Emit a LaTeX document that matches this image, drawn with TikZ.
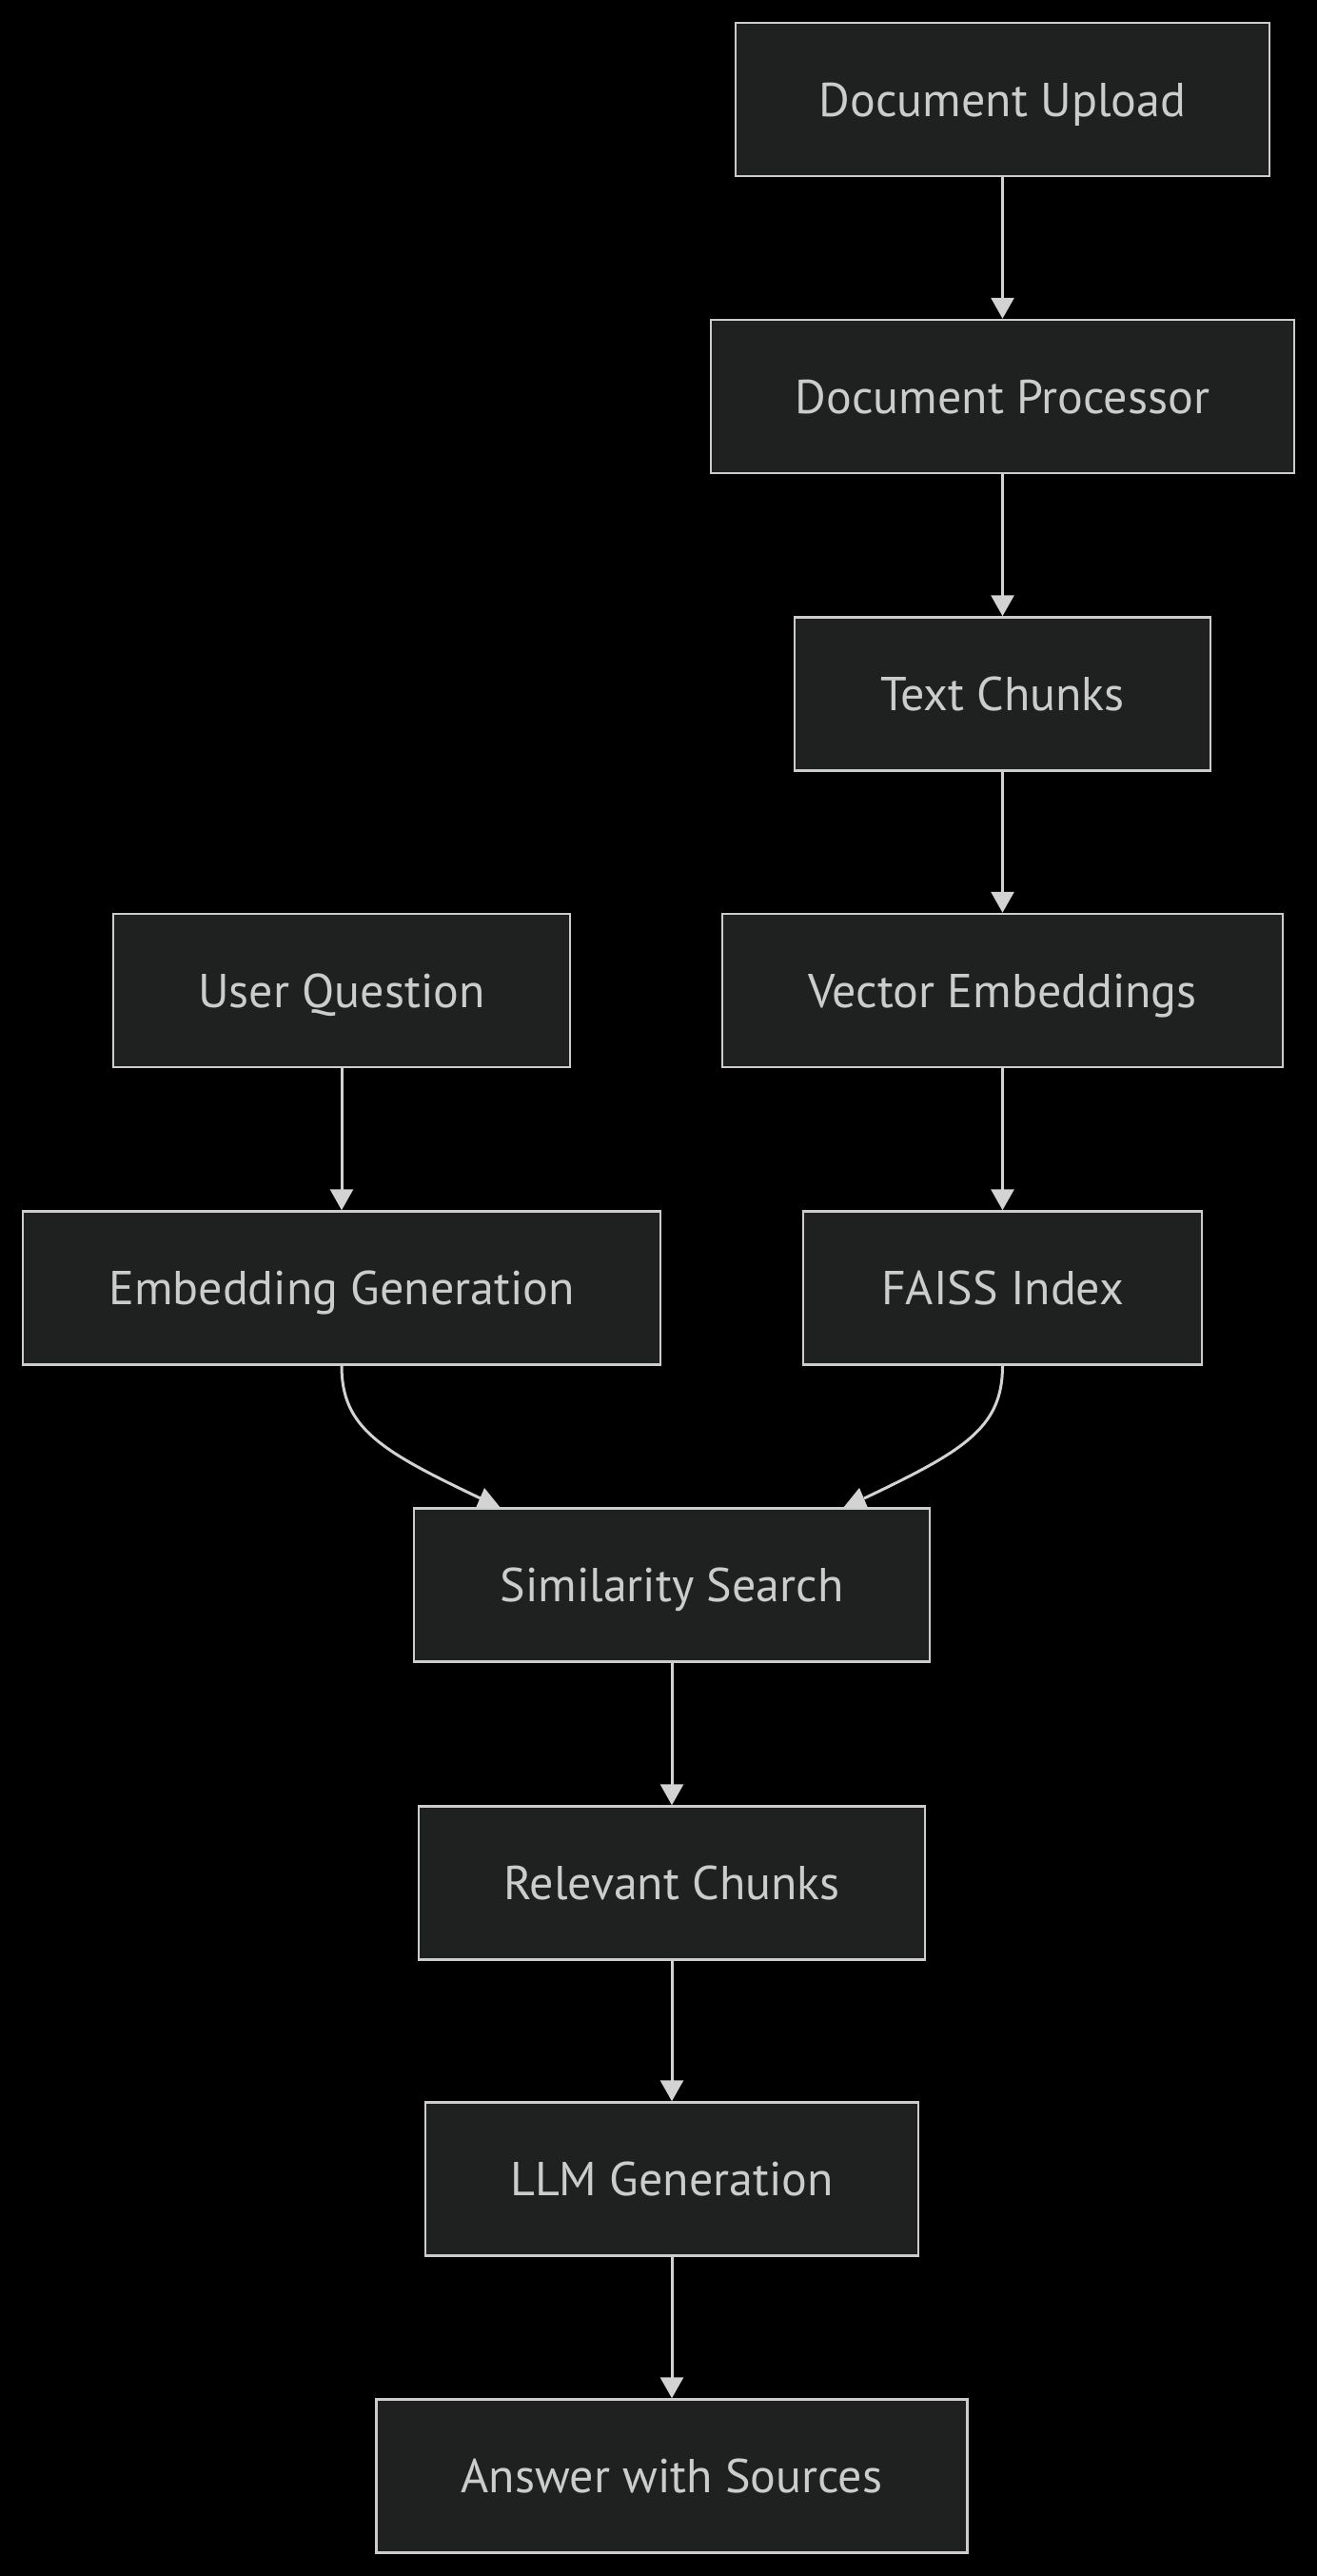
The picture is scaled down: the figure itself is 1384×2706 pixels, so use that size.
\documentclass[tikz,border=0pt]{standalone}
\usepackage{fontspec}
\setmainfont{PT Sans}
\usetikzlibrary{arrows.meta}
\definecolor{bg}{HTML}{000000}
\definecolor{boxfill}{HTML}{1F2020}
\definecolor{boxline}{HTML}{CCCCCC}
\definecolor{txt}{HTML}{CCCCCC}
\definecolor{edge}{HTML}{D3D3D3}
\tikzset{
  flowbox/.style={draw=boxline, fill=boxfill, line width=2.5pt, inner sep=0pt,
    minimum height=161pt, text=txt, font=\fontsize{50}{60}\selectfont,
    text height=35pt, text depth=0pt},
  flowedge/.style={draw=edge, line width=3pt, -{Triangle[length=22pt,width=24pt]}},
  curveedge/.style={draw=edge, line width=3pt},
  headfill/.style={fill=edge}
}
\begin{document}
\begin{tikzpicture}[x=1pt,y=-1pt]
\fill[bg] (0,0) rectangle (1384,2706);
\useasboundingbox (0,0) rectangle (1384,2706);

\coordinate (cL) at (505,1574);
\coordinate (cR) at (908,1574);

\node[flowbox, minimum width=561pt] (du) at (1053.5,104.5) {Document Upload};
\node[flowbox, minimum width=613pt] (dp) at (1053.5,416.5) {Document Processor};
\node[flowbox, minimum width=437pt] (tc) at (1053.5,729) {Text Chunks};
\node[flowbox, minimum width=589pt] (ve) at (1053.5,1040.5) {Vector Embeddings};
\node[flowbox, minimum width=480pt] (uq) at (359,1040.5) {User Question};
\node[flowbox, minimum width=670pt] (eg) at (359,1353) {Embedding Generation};
\node[flowbox, minimum width=419pt] (fi) at (1053.5,1353) {FAISS Index};
\node[flowbox, minimum width=542pt] (ss) at (706,1665) {Similarity Search};
\node[flowbox, minimum width=532pt] (rc) at (706,1978) {Relevant Chunks};
\node[flowbox, minimum width=518pt] (llm) at (706,2289) {LLM Generation};
\node[flowbox, minimum width=621pt] (aws) at (706,2601) {Answer with Sources};

\draw[flowedge] (du.south) -- (dp.north);
\draw[flowedge] (dp.south) -- (tc.north);
\draw[flowedge] (tc.south) -- (ve.north);
\draw[flowedge] (ve.south) -- (fi.north);
\draw[flowedge] (uq.south) -- (eg.north);
\draw[flowedge] (ss.south) -- (rc.north);
\draw[flowedge] (rc.south) -- (llm.north);
\draw[flowedge] (llm.south) -- (aws.north);

\draw[curveedge] (eg.south) .. controls (359,1500) and (400,1524) .. (cL);
\draw[curveedge] (fi.south) .. controls (1053.5,1500) and (1013,1524) .. (cR);
\fill[headfill] (500,1584) -- (509,1563) -- (526,1584) -- cycle;
\fill[headfill] (886,1584) -- (903,1563) -- (912,1584) -- cycle;
\end{tikzpicture}
\end{document}
